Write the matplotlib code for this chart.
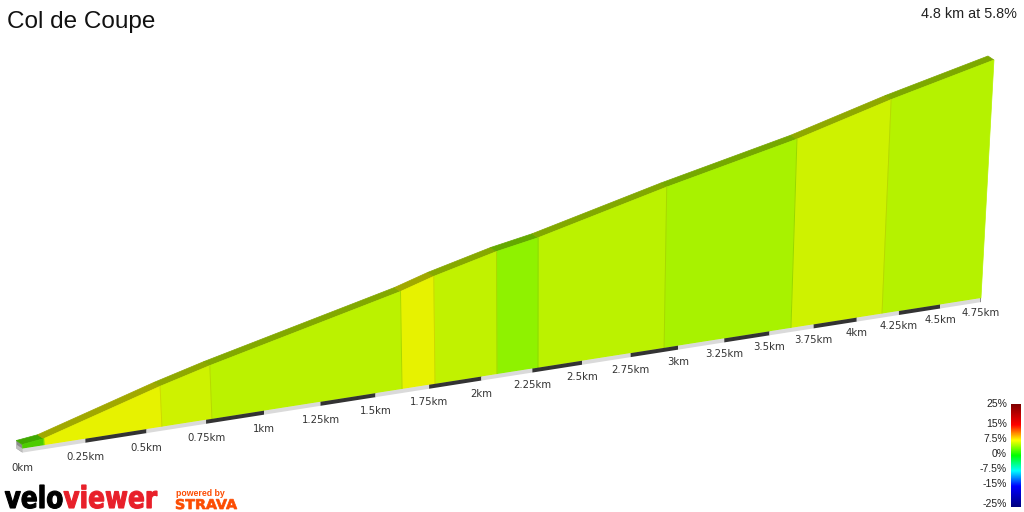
import matplotlib
matplotlib.use("Agg")
import numpy as np
import matplotlib.pyplot as plt
from matplotlib.colors import LinearSegmentedColormap
from matplotlib.patches import Polygon, PathPatch
from matplotlib.textpath import TextPath
from matplotlib.font_manager import FontProperties
from matplotlib.transforms import Affine2D

# ---- data -------------------------------------------------------------
title = "Col de Coupe"
summary = "4.8 km at 5.8%"
dist_km = [0.0, 0.085, 0.564, 0.775, 1.623, 1.778, 2.076, 2.278, 2.926, 3.621, 4.149, 4.753]
elev_m = [420.0, 422.4, 456.5, 469.9, 518.2, 529.3, 546.8, 555.8, 593.5, 630.1, 663.5, 697.5]
tick_km = [0, 0.25, 0.5, 0.75, 1, 1.25, 1.5, 1.75, 2, 2.25, 2.5, 2.75,
           3, 3.25, 3.5, 3.75, 4, 4.25, 4.5, 4.75]
legend_pct = [25, 15, 7.5, 0, -7.5, -15, -25]

dist = np.array(dist_km)
elev = np.array(elev_m)
grade = np.diff(elev) / (np.diff(dist) * 1000) * 100

# ---- perspective of the profile wall (pixel space) -------------------
A, B, C = 256.2, 22.5, 0.0556      # distance along the base
AY, Y0 = -15.09, 448.6
VX, VY = 530.0, 8560.0             # vertical vanishing point
floor = elev.min() - 4
hgt = elev - floor
top_end = 60.0
W_end = C * dist[-1] + 1
S = (top_end * W_end - (AY * dist[-1] + Y0)) / (VY - top_end) / hgt[-1]
DEPTH = np.array([-6.0, -4.0])     # ridge / slab depth offset


def proj(d, h):
    d = np.asarray(d, float)
    h = np.asarray(h, float)
    w = C * d + 1 + S * h
    return (A * d + B + VX * S * h) / w, (AY * d + Y0 + VY * S * h) / w


cmap = LinearSegmentedColormap.from_list("grad", [
    (0.0, "#000080"), (0.2, "#0000ff"), (0.35, "#00ffff"), (0.5, "#00ff00"),
    (0.65, "#ffff00"), (0.8, "#ff0000"), (1.0, "#800000")])


def grade_color(g):
    return np.array(cmap((np.clip(g, -25, 25) + 25) / 50)[:3])


fig = plt.figure(figsize=(10.24, 5.12), dpi=100)
ax = fig.add_axes([0, 0, 1, 1])
ax.set_xlim(0, 1024)
ax.set_ylim(512, 0)
ax.axis("off")

xb, yb = proj(dist, np.zeros_like(dist))
xt, yt = proj(dist, hgt)

# left end cap of the slab
strip = 4.0
cap = [(xb[0], yb[0] + strip), (xt[0], yt[0]),
       (xt[0] + DEPTH[0], yt[0] + DEPTH[1]), (xb[0] + DEPTH[0], yb[0] + strip + DEPTH[1])]
ax.add_patch(Polygon(cap, closed=True, facecolor="#8c8c8c", edgecolor="none", zorder=1))

# ridge on top and the coloured wall
for i, g in enumerate(grade):
    col = grade_color(g)
    ridge = [(xt[i], yt[i]), (xt[i + 1], yt[i + 1]),
             (xt[i + 1] + DEPTH[0], yt[i + 1] + DEPTH[1]), (xt[i] + DEPTH[0], yt[i] + DEPTH[1])]
    ax.add_patch(Polygon(ridge, closed=True, facecolor=col * 0.66,
                         edgecolor=col * 0.66, lw=0.5, zorder=2))
    shade = 0.8 if i == 0 else 0.95
    face = [(xb[i], yb[i]), (xb[i + 1], yb[i + 1]), (xt[i + 1], yt[i + 1]), (xt[i], yt[i])]
    ax.add_patch(Polygon(face, closed=True, facecolor=col * shade,
                         edgecolor=col * shade, lw=0.5, zorder=3))

for i in range(1, len(dist) - 1):
    col = grade_color(grade[i - 1]) * 0.85
    ax.plot([xb[i], xt[i]], [yb[i], yt[i]], color=col, lw=0.7, zorder=4)

# base strip with quarter-km dashes
edges = list(tick_km) + [dist[-1]]
for k in range(len(edges) - 1):
    d0, d1 = edges[k], min(edges[k + 1], dist[-1])
    if d1 <= d0:
        continue
    (x0, x1), (y0, y1) = proj([d0, d1], [0, 0])
    colr = "#dadada" if k % 2 == 0 else "#333333"
    ax.add_patch(Polygon([(x0, y0), (x1, y1), (x1, y1 + strip), (x0, y0 + strip)],
                         closed=True, facecolor=colr, edgecolor="none", zorder=5))
x0, y0 = proj(0, 0)
ax.add_patch(Polygon([(x0, y0), (x0, y0 + strip), (x0 + DEPTH[0], y0 + strip + DEPTH[1]),
                      (x0 + DEPTH[0], y0 + DEPTH[1])], closed=True,
                     facecolor="#bdbdbd", edgecolor="none", zorder=5))

for t in tick_km:
    x, y = proj(t, 0)
    ax.text(x, y + 19 / (C * t + 1), f"{t:g}km", ha="center", va="center",
            fontsize=7.3, color="#333333", family="DejaVu Sans", zorder=6)

# titles
ax.text(7, 28, title, fontsize=17.5, family="Liberation Sans", color="#111111", va="baseline")
ax.text(1017, 18, summary, fontsize=10.4, family="Liberation Sans", color="#222222",
        ha="right", va="baseline")

# gradient legend
bar = np.linspace(25, -25, 200).reshape(-1, 1)
ax.imshow((bar + 25) / 50, cmap=cmap, vmin=0, vmax=1, aspect="auto",
          extent=[1011, 1021, 507, 404], zorder=6)
for p in legend_pct:
    ax.text(1007, 454 - 2 * p, f"{p:g}%", ha="right", va="center", fontsize=7.5,
            family="Liberation Sans", color="#222222")


# logos
def word(text, x0, y_base, sx, sy, color, weight="bold", family="DejaVu Sans", lw=0.0):
    tp = TextPath((0, 0), text, size=1, prop=FontProperties(family=family, weight=weight))
    bb = tp.get_extents()
    tr = Affine2D().translate(-bb.x0, 0).scale(sx, -sy).translate(x0, y_base)
    path = tr.transform_path(tp)
    ax.add_patch(PathPatch(path, facecolor=color, edgecolor=color, lw=lw, zorder=7))
    return x0 + bb.width * sx


fp = FontProperties(family="DejaVu Sans", weight="bold")
ext_all = TextPath((0, 0), "veloviewer", size=1, prop=fp).get_extents()
ext_v = TextPath((0, 0), "velo", size=1, prop=fp).get_extents()
sx = 152 / ext_all.width
sy = 23 / ext_v.y1
xe = word("velo", 5, 508, sx, sy, "#000000", lw=0.8)
word("viewer", xe + 1.5, 508, sx, sy, "#e8202a", lw=0.8)

ax.text(176, 493, "powered by", fontsize=6.3, family="Liberation Sans", weight="bold",
        color="#fc4c02", va="center")
ext_s = TextPath((0, 0), "STRAVA", size=1, prop=fp).get_extents()
word("STRAVA", 176, 509, 61 / ext_s.width, 10 / ext_s.y1, "#fc4c02", lw=0.5)

plt.savefig("out.png", dpi=100)
plt.close(fig)
